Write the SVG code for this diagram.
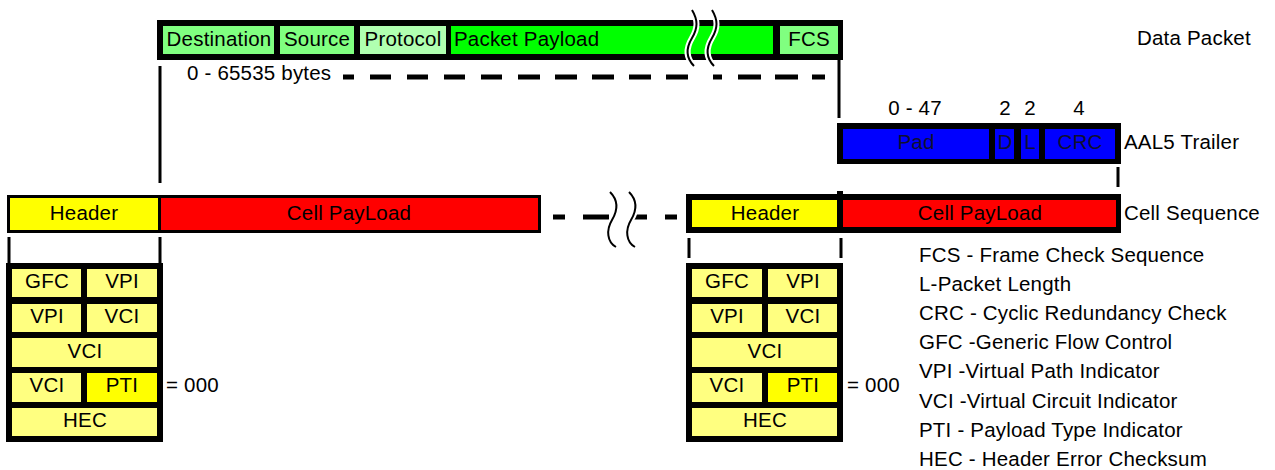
<svg xmlns="http://www.w3.org/2000/svg" width="1275" height="470" viewBox="0 0 1275 470">
  <style>
    text { font-family: "Liberation Sans", Arial, sans-serif; font-size: 20.5px; letter-spacing: 0.2px; fill: #000; }
    .c { text-anchor: middle; }
    .frame { fill: #000; }
    .g1 { fill: #80ff80; }
    .g2 { fill: #b0ffb0; }
    .g3 { fill: #00ff00; }
    .blue { fill: #0000ff; }
    .yel { fill: #ffff00; }
    .lyel { fill: #ffff80; }
    .red { fill: #ff0000; }
    .dark { fill: #101030; }
    .wire { stroke: #000; stroke-width: 3; fill: none; }
    .dash { stroke: #000; stroke-width: 5; fill: none; }
    .waveBg { stroke: #fff; stroke-width: 6; fill: none; }
    .wave { stroke: #000; stroke-width: 2; fill: none; }
  </style>

  <!-- data packet -->
  <g id="packet">
    <rect class="frame" x="157" y="20" width="686" height="40"/>
    <rect class="g1" x="163" y="26" width="111" height="28"/>
    <rect class="g1" x="280" y="26" width="74" height="28"/>
    <rect class="g2" x="360" y="26" width="86" height="28"/>
    <rect class="g3" x="451" y="26" width="322" height="28"/>
    <rect class="g1" x="780" y="26" width="58" height="28"/>
    <text class="c" x="219" y="46">Destination</text>
    <text class="c" x="317" y="46">Source</text>
    <text class="c" x="403" y="46">Protocol</text>
    <text x="454" y="46">Packet Payload</text>
    <text class="c" x="809" y="46">FCS</text>
    <!-- break marks -->
    <path class="waveBg" d="M692,10 C698,20 698,28 692,38 C686,48 686,58 694,66 M712,10 C718,20 718,28 712,38 C706,48 706,58 714,66"/>
    <path class="wave" d="M692,10 C698,20 698,28 692,38 C686,48 686,58 694,66 M712,10 C718,20 718,28 712,38 C706,48 706,58 714,66"/>
  </g>

  <!-- AAL5 trailer -->
  <g id="aal5">
    <rect class="frame" x="837" y="123" width="284" height="41"/>
    <rect class="blue" x="843" y="129" width="146" height="30"/>
    <rect class="blue" x="995" y="129" width="19" height="30"/>
    <rect class="blue" x="1021" y="129" width="18" height="30"/>
    <rect class="blue" x="1045" y="129" width="70" height="30"/>
    <text class="c dark" x="916" y="149">Pad</text>
    <text class="c dark" x="1005" y="149">D</text>
    <text class="c dark" x="1030" y="149">L</text>
    <text class="c dark" x="1080" y="149">CRC</text>
    <text class="c" x="915" y="115">0 - 47</text>
    <text class="c" x="1005" y="115">2</text>
    <text class="c" x="1030" y="115">2</text>
    <text class="c" x="1079" y="115">4</text>
  </g>

  <!-- first cell -->
  <g id="cell-first">
    <rect class="frame" x="7" y="195" width="534" height="38"/>
    <rect class="yel" x="10" y="198" width="148" height="32"/>
    <rect class="red" x="161" y="198" width="377" height="32"/>
    <text class="c" x="84" y="220">Header</text>
    <text class="c" x="349" y="220">Cell PayLoad</text>
  </g>

  <!-- last cell -->
  <g id="cell-last">
    <rect class="frame" x="686" y="194" width="435" height="39"/>
    <rect class="frame" x="837" y="191" width="6" height="4"/>
    <rect class="yel" x="692" y="200" width="145" height="27"/>
    <rect class="red" x="843" y="200" width="273" height="27"/>
    <text class="c" x="765" y="220">Header</text>
    <text class="c" x="980" y="220">Cell PayLoad</text>
  </g>

  <!-- header detail, first cell -->
  <g id="header-first">
    <rect class="frame" x="6" y="263" width="157" height="179"/>
    <rect class="lyel" x="12" y="269" width="69" height="28"/>
    <rect class="lyel" x="87" y="269" width="70" height="28"/>
    <rect class="lyel" x="12" y="304" width="69" height="28"/>
    <rect class="lyel" x="87" y="304" width="70" height="28"/>
    <rect class="lyel" x="12" y="338" width="145" height="29"/>
    <rect class="lyel" x="12" y="373" width="69" height="29"/>
    <rect class="yel" x="87" y="373" width="70" height="29"/>
    <rect class="lyel" x="12" y="408" width="145" height="28"/>
    <text class="c" x="47" y="288">GFC</text>
    <text class="c" x="122" y="288">VPI</text>
    <text class="c" x="47" y="323">VPI</text>
    <text class="c" x="122" y="323">VCI</text>
    <text class="c" x="85" y="358">VCI</text>
    <text class="c" x="47" y="392">VCI</text>
    <text class="c" x="122" y="392">PTI</text>
    <text class="c" x="85" y="427">HEC</text>
    <text x="166" y="392">= 000</text>
  </g>

  <!-- header detail, last cell -->
  <g id="header-last">
    <rect class="frame" x="686" y="263" width="157" height="179"/>
    <rect class="lyel" x="692" y="269" width="70" height="28"/>
    <rect class="lyel" x="768" y="269" width="69" height="28"/>
    <rect class="lyel" x="692" y="304" width="70" height="28"/>
    <rect class="lyel" x="768" y="304" width="69" height="28"/>
    <rect class="lyel" x="692" y="338" width="145" height="29"/>
    <rect class="lyel" x="692" y="373" width="70" height="29"/>
    <rect class="yel" x="768" y="373" width="69" height="29"/>
    <rect class="lyel" x="692" y="408" width="145" height="28"/>
    <text class="c" x="727" y="288">GFC</text>
    <text class="c" x="803" y="288">VPI</text>
    <text class="c" x="727" y="323">VPI</text>
    <text class="c" x="803" y="323">VCI</text>
    <text class="c" x="765" y="358">VCI</text>
    <text class="c" x="727" y="392">VCI</text>
    <text class="c" x="803" y="392">PTI</text>
    <text class="c" x="765" y="427">HEC</text>
    <text x="847" y="392">= 000</text>
  </g>

  <!-- side labels and legend -->
  <g id="labels">
    <text x="1137" y="45">Data Packet</text>
    <text x="1124" y="149">AAL5 Trailer</text>
    <text x="1124" y="220">Cell Sequence</text>
    <text x="187" y="80">0 - 65535 bytes</text>
  </g>
  <g id="legend">
    <text x="919" y="262">FCS - Frame Check Sequence</text>
    <text x="919" y="291">L-Packet Length</text>
    <text x="919" y="320">CRC - Cyclic Redundancy Check</text>
    <text x="919" y="349">GFC -Generic Flow Control</text>
    <text x="919" y="378">VPI -Virtual Path Indicator</text>
    <text x="919" y="408">VCI -Virtual Circuit Indicator</text>
    <text x="919" y="437">PTI - Payload Type Indicator</text>
    <text x="919" y="466">HEC - Header Error Checksum</text>
  </g>

  <!-- connectors: span lines, extents and breaks -->
  <g id="connectors">
    <path class="wire" d="M160,66 V183 M839,60 V118 M1118,167 V187 M9,237 V263 M160,237 V263 M689,238 V258 M841,238 V258"/>
    <path class="dash" d="M343,77 H354 M370,77 H391 M407,77 H428 M444,77 H465 M481,77 H502 M518,77 H540 M555,77 H577 M592,77 H614 M629,77 H651 M666,77 H688 M713,77 H722 M738,77 H761 M775,77 H798 M812,77 H825"/>
    <path class="dash" d="M553,217 H565 M583,217 H609 M632,217 H647 M665,217 H677"/>
    <path class="waveBg" d="M610,192 C618,200 618,210 612,220 C606,230 607,242 616,247 M629,192 C637,200 637,210 631,220 C625,230 626,242 635,247"/>
    <path class="wave" d="M610,192 C618,200 618,210 612,220 C606,230 607,242 616,247 M629,192 C637,200 637,210 631,220 C625,230 626,242 635,247"/>
  </g>
</svg>
